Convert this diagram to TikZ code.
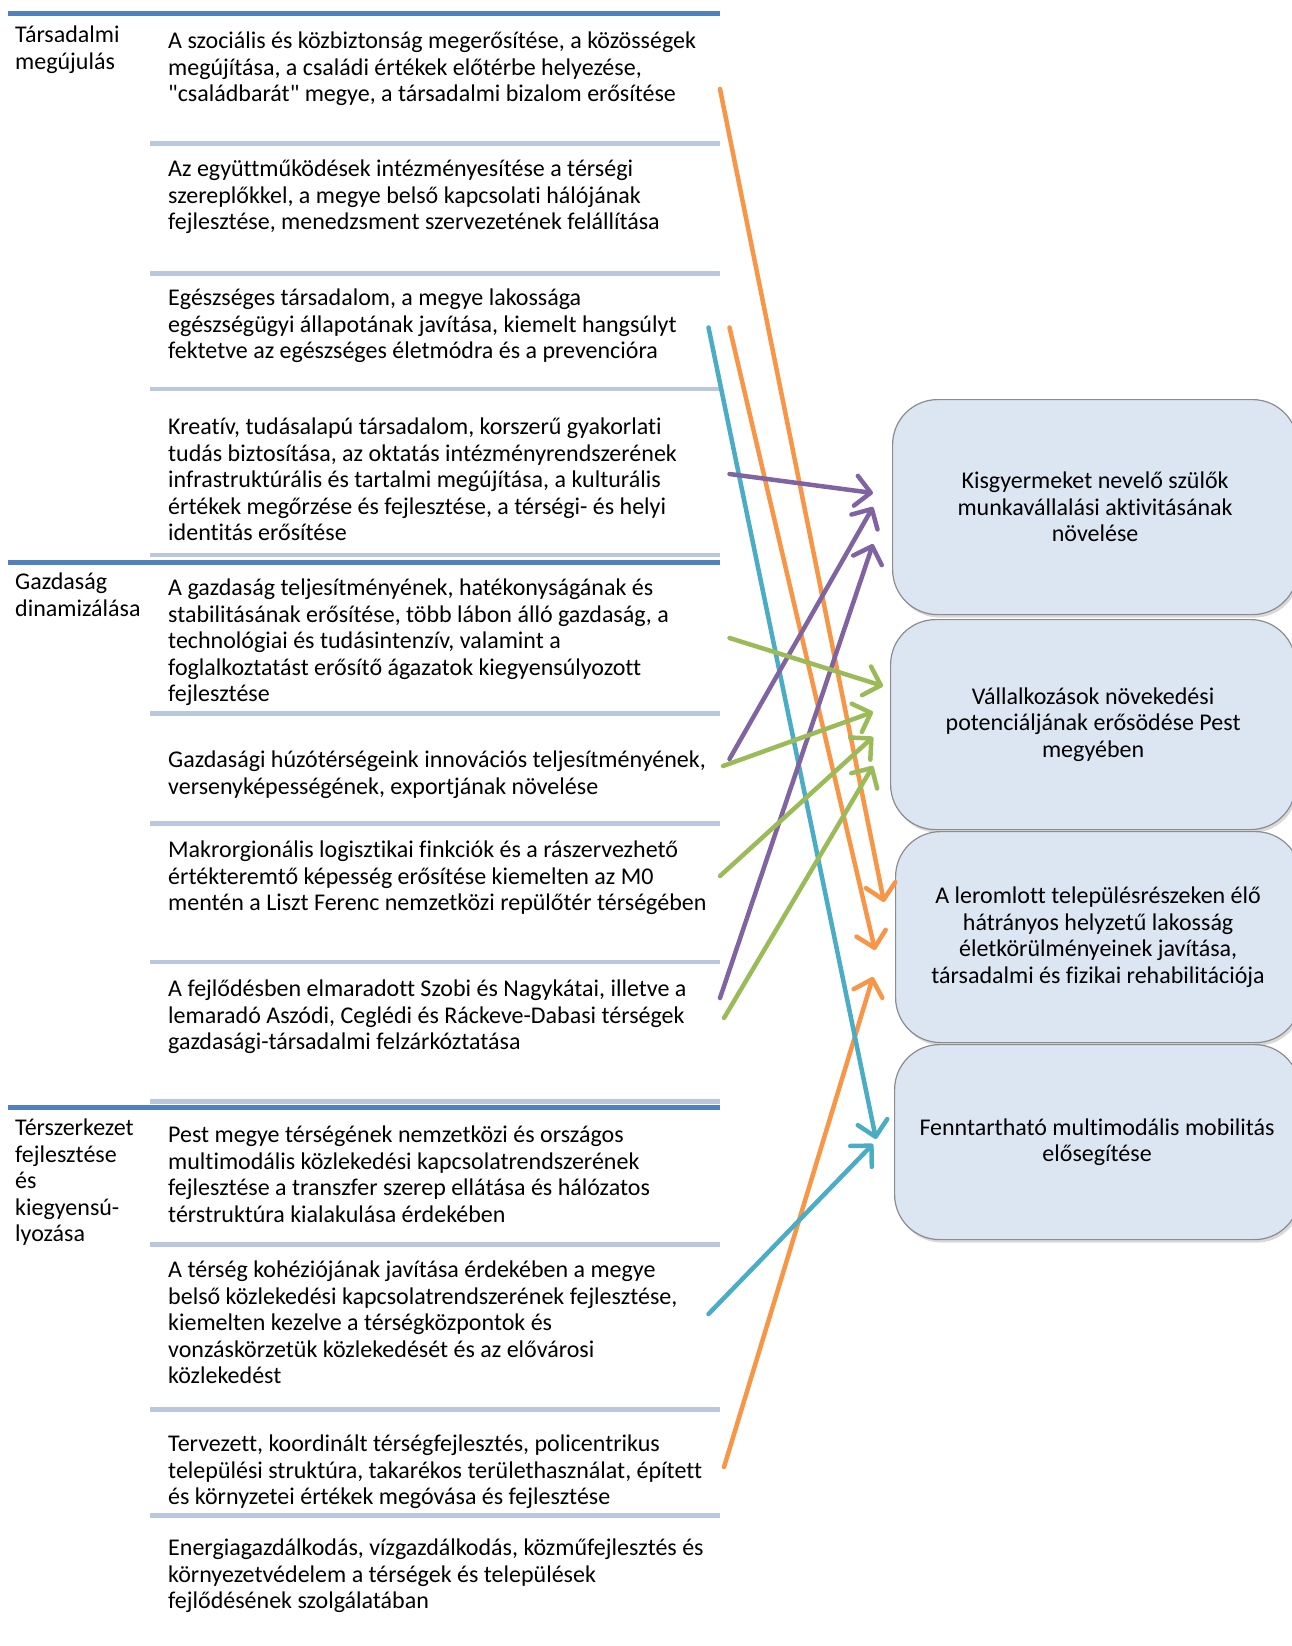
\documentclass[tikz,border=0pt]{standalone}
\usepackage{fontspec}
\setmainfont{Carlito}[Ligatures=NoCommon]
\usetikzlibrary{arrows.meta,shadows}
\definecolor{sorkek}{HTML}{4F81BD}
\definecolor{halvany}{HTML}{B9C7DF}
\definecolor{dobozkek}{HTML}{DCE6F2}
\definecolor{narancs}{HTML}{F79646}
\definecolor{turkiz}{HTML}{4BACC6}
\definecolor{lila}{HTML}{8064A2}
\definecolor{zold}{HTML}{9BBB59}
\tikzset{
  betu/.style={font=\fontsize{24}{26.5}\selectfont},
  para/.style={betu, anchor=north west, inner sep=0pt, align=left},
  cel/.style={betu, draw=black!45, line width=1.2pt, fill=dobozkek,
    rounded corners=45pt, anchor=north west, minimum width=405pt,
    align=center, drop shadow={shadow xshift=2pt, shadow yshift=-3pt, opacity=.3}},
  fovonal/.style={sorkek, line width=5pt},
  elvalaszto/.style={halvany, line width=4.5pt},
  pil/.style={line width=4.5pt, line cap=round,
    -{Straight Barb[length=15pt,width=30pt,round]}}
}
\begin{document}
\begin{tikzpicture}[x=1pt,y=-1pt]
        \useasboundingbox (0,0) rectangle (1291,1646);
        %% separators
        \foreach \y in {14,562,1107.5}
            \draw[fovonal] (8,\y) -- (720,\y);
        \foreach \y in {143.5,273.5,389,555,713.5,823.5,962,1101.5,1244.5,1409.5,1515.5}
            \draw[elvalaszto] (150,\y) -- (720,\y);
        %% section labels
        \node[para] (tars) at (15,24) {\strut Társadalmi\\megújulás};
        \node[para] (gazd) at (15,571) {\strut Gazdaság\\dinamizálása};
        \node[para] (ter) at (15,1117) {\strut Térszerkezet\\fejlesztése\\és\\kiegyensú-\\lyozása};
        %% priorities
        \node[para] (p1) at (168,30) {\strut A szociális és közbiztonság megerősítése, a közösségek\\megújítása, a családi értékek előtérbe helyezése,\\\textquotedbl családbarát\textquotedbl{} megye, a társadalmi bizalom erősítése};
        \node[para] (p2) at (168,158) {\strut Az együttműködések intézményesítése a térségi\\szereplőkkel, a megye belső kapcsolati hálójának\\fejlesztése, menedzsment szervezetének felállítása};
        \node[para] (p3) at (168,287) {\strut Egészséges társadalom, a megye lakossága\\egészségügyi állapotának javítása, kiemelt hangsúlyt\\fektetve az egészséges életmódra és a prevencióra};
        \node[para] (p4) at (168,416) {\strut Kreatív, tudásalapú társadalom, korszerű gyakorlati\\tudás biztosítása, az oktatás intézményrendszerének\\infrastruktúrális és tartalmi megújítása, a kulturális\\értékek megőrzése és fejlesztése, a térségi- és helyi\\identitás erősítése};
        \node[para] (p5) at (168,577) {\strut A gazdaság teljesítményének, hatékonyságának és\\stabilitásának erősítése, több lábon álló gazdaság, a\\technológiai és tudásintenzív, valamint a\\foglalkoztatást erősítő ágazatok kiegyensúlyozott\\fejlesztése};
        \node[para] (p6) at (168,749) {\strut Gazdasági húzótérségeink innovációs teljesítményének,\\versenyképességének, exportjának növelése};
        \node[para] (p7) at (168,839) {\strut Makrorgionális logisztikai finkciók és a rászervezhető\\értékteremtő képesség erősítése kiemelten az M0\\mentén a Liszt Ferenc nemzetközi repülőtér térségében};
        \node[para] (p8) at (168,978) {\strut A fejlődésben elmaradott Szobi és Nagykátai, illetve a\\lemaradó Aszódi, Ceglédi és Ráckeve-Dabasi térségek\\gazdasági-társadalmi felzárkóztatása};
        \node[para] (p9) at (168,1124) {\strut Pest megye térségének nemzetközi és országos\\multimodális közlekedési kapcsolatrendszerének\\fejlesztése a transzfer szerep ellátása és hálózatos\\térstruktúra kialakulása érdekében};
        \node[para] (p10) at (168,1259) {\strut A térség kohéziójának javítása érdekében a megye\\belső közlekedési kapcsolatrendszerének fejlesztése,\\kiemelten kezelve a térségközpontok és\\vonzáskörzetük közlekedését és az elővárosi\\közlekedést};
        \node[para] (p11) at (168,1433) {\strut Tervezett, koordinált térségfejlesztés, policentrikus\\települési struktúra, takarékos területhasználat, épített\\és környzetei értékek megóvása és fejlesztése};
        \node[para] (p12) at (168,1537) {\strut Energiagazdálkodás, vízgazdálkodás, közműfejlesztés és\\környezetvédelem a térségek és települések\\fejlődésének szolgálatában};
        %% goals
        \node[cel, minimum height=215pt] (k1) at (892,399) {Kisgyermeket nevelő szülők\\munkavállalási aktivitásának\\növelése};
        \node[cel, minimum height=210pt] (k2) at (890,619) {Vállalkozások növekedési\\potenciáljának erősödése Pest\\megyében};
        \node[cel, minimum height=211pt] (k3) at (895,831) {A leromlott településrészeken élő\\hátrányos helyzetű lakosság\\életkörülményeinek javítása,\\társadalmi és fizikai rehabilitációja};
        \node[cel, minimum height=195pt] (k4) at (894,1044) {Fenntartható multimodális mobilitás\\elősegítése};
        %% arrow ends
        \foreach \n/\x/\y in {o1s/720/89, o1t/884/902, o2s/729.5/327.5, o2t/875/950,
                o3s/724/1467, o3t/873/977, t1s/708.5/327.5, t1t/876/1139,
                t2s/708.5/1314, t2t/873/1144, l1s/729.5/474, l1t/873/493,
                l2s/729.5/759, l2t/873/507, l3s/720/998, l3t/873/544,
                z1s/729.5/638, z1t/883/686, z2s/723/766, z2t/873/712,
                z3s/720/876, z3t/873/737, z4s/724/1018, z4t/873/766}
            \coordinate (\n) at (\x,\y);
        %% arrows
        \foreach \a/\szin in {o1/narancs,o2/narancs,o3/narancs,t1/turkiz,t2/turkiz,
                l1/lila,l2/lila,l3/lila,z1/zold,z2/zold,z3/zold,z4/zold}
            \draw[pil, \szin] (\a s) -- (\a t);
\end{tikzpicture}
\end{document}
